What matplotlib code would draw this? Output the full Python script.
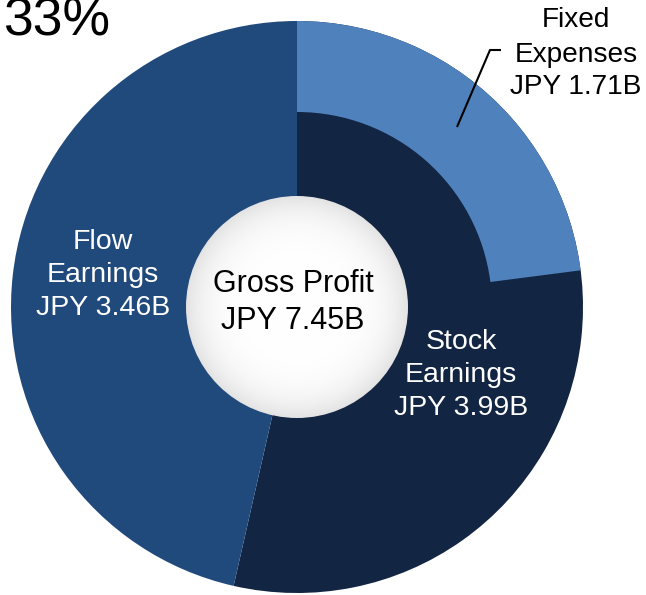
import numpy as np
import matplotlib
matplotlib.use("Agg")
import matplotlib.pyplot as plt
from matplotlib.patches import Circle

plt.rcParams['font.family'] = ['Liberation Sans', 'DejaVu Sans']

# data (JPY billions)
labels = ['Stock\nEarnings', 'Flow\nEarnings']
values = [3.99, 3.46]
gross = 7.45
fixed = 1.71
colors = ['#122542', '#214a7c']
fixed_color = '#4f81bd'

W, H = 646, 595
fig = plt.figure(figsize=(W / 100, H / 100), dpi=100)
ax = fig.add_axes([0, 0, 1, 1])

cx, cy = 297, H - 307
R = 286
r_hole = 111
r_fixed_in = 195

# outer ring: stock + flow
ax.pie(values, colors=colors, startangle=90, counterclock=False,
       radius=R, center=(cx, cy), frame=True,
       wedgeprops=dict(linewidth=0))

# fixed expenses over the outer part of stock earnings
wedges, _ = ax.pie([fixed, gross - fixed], colors=[fixed_color, 'none'],
                   startangle=90, counterclock=False, radius=R, center=(cx, cy),
                   frame=True, wedgeprops=dict(width=R - r_fixed_in, linewidth=0))
wedges[1].set_visible(False)

# white hole with soft shading
n = 300
yy, xx = np.mgrid[-1:1:n * 1j, -1:1:n * 1j]
rr = np.sqrt(xx ** 2 + yy ** 2)
shade = 1 - 0.11 * np.clip(rr, 0, 1) ** 5
img = np.dstack([shade, shade, shade])
im = ax.imshow(img, extent=(cx - r_hole, cx + r_hole, cy - r_hole, cy + r_hole),
               origin='lower', zorder=5, interpolation='bilinear')
clip = Circle((cx, cy), r_hole, transform=ax.transData)
im.set_clip_path(clip)

ax.set_xlim(0, W)
ax.set_ylim(0, H)
ax.set_aspect('equal')
ax.axis('off')


def put_lines(x, baselines, lines, size, color):
    for b, s in zip(baselines, lines):
        ax.text(x, H - b, s, ha='center', va='baseline', fontsize=size,
                color=color, zorder=6)


put_lines(103, [249, 282, 315], labels[1].split('\n') + ['JPY %.2fB' % values[1]], 20.5, 'white')
put_lines(461, [349, 382, 415], labels[0].split('\n') + ['JPY %.2fB' % values[0]], 20.5, 'white')
put_lines(293, [292, 329], ['Gross Profit', 'JPY %.2fB' % gross], 22, 'black')
put_lines(576, [27, 62, 94], ['Fixed', 'Expenses', 'JPY %.2fB' % fixed], 20.2, 'black')

# leader line for fixed expenses
ax.plot([457, 490, 501], [H - 127, H - 50, H - 50], color='black', lw=1.5,
        zorder=6, solid_capstyle='butt')

# partly cut off at the top, as in the source
ax.text(3, H - 36, '33%', ha='left', va='baseline', fontsize=38.5, color='black')

fig.savefig('out.png', dpi=100)
